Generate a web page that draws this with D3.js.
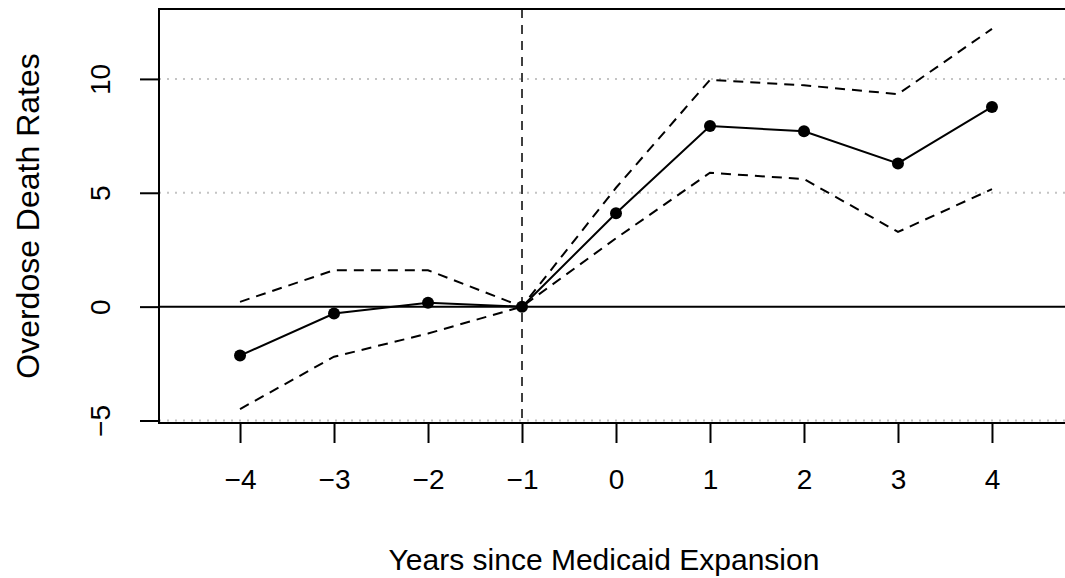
<!DOCTYPE html>
<html>
<head>
<meta charset="utf-8">
<script src="https://cdn.jsdelivr.net/npm/d3@7"></script>
<style>
  body { margin: 0; background: #fff; }
  text { font-family: "Liberation Sans", Arial, sans-serif; fill: #000; }
</style>
</head>
<body>
<svg id="vimage" width="1065" height="578"></svg>
<script>
//---------------------------------------- data ---------------------------------------
var years = [-4, -3, -2, -1, 0, 1, 2, 3, 4];
var estimate = [-2.15, -0.30, 0.17, 0, 4.10, 7.93, 7.70, 6.29, 8.77];
var upper = [0.21, 1.60, 1.60, 0, 5.22, 9.96, 9.72, 9.33, 12.2];
var lower = [-4.5, -2.2, -1.18, 0, 3.0, 5.88, 5.60, 3.28, 5.16];
var yTicks = [-5, 0, 5, 10];
var gridLines = [-5, 5, 10];

//---------------------------------------- scales ---------------------------------------
var svg = d3.select("#vimage");
var pLeft = 159, pRight = 1073, pTop = 9, pBottom = 423;

var x = d3.scaleLinear().domain([-4.862, 4.862]).range([pLeft, pRight]);
var y = d3.scaleLinear().domain([-5.11, 13.07]).range([pBottom, pTop]);

var minus = function(d) { return d < 0 ? "\u2212" + Math.abs(d) : d; };

var line = function(vals) {
    return d3.line()
	.x(function(d, i) { return x(years[i]); })
	.y(function(d) { return y(d); })(vals);
};

//---------------------------------------- grid + reference lines ---------------------------------------
svg.selectAll(".grid")
    .data(gridLines)
    .enter().append("line")
    .attr("class", "grid")
    .attr("x1", pLeft).attr("x2", pRight)
    .attr("y1", function(d) { return y(d); })
    .attr("y2", function(d) { return y(d); })
    .style("stroke", "#c4c4c4")
    .style("stroke-width", 2)
    .style("stroke-dasharray", "2,6");

svg.append("line")
    .attr("x1", pLeft).attr("x2", pRight)
    .attr("y1", y(0)).attr("y2", y(0))
    .style("stroke", "#000")
    .style("stroke-width", 2);

svg.append("line")
    .attr("x1", x(-1)).attr("x2", x(-1))
    .attr("y1", pTop).attr("y2", pBottom)
    .style("stroke", "#000")
    .style("stroke-width", 1.5)
    .style("stroke-dasharray", "9,7");

//---------------------------------------- bands + estimate ---------------------------------------
[upper, lower].forEach(function(b) {
    svg.append("path")
	.attr("d", line(b))
	.style("fill", "none")
	.style("stroke", "#000")
	.style("stroke-width", 2)
	.style("stroke-dasharray", "10,7");
});

svg.append("path")
    .attr("d", line(estimate))
    .style("fill", "none")
    .style("stroke", "#000")
    .style("stroke-width", 2);

svg.selectAll(".pt")
    .data(estimate)
    .enter().append("circle")
    .attr("class", "pt")
    .attr("cx", function(d, i) { return x(years[i]); })
    .attr("cy", function(d) { return y(d); })
    .attr("r", 6)
    .style("fill", "#000");

//---------------------------------------- axes + box ---------------------------------------
svg.append("rect")
    .attr("x", pLeft).attr("y", pTop)
    .attr("width", pRight - pLeft).attr("height", pBottom - pTop)
    .style("fill", "none")
    .style("stroke", "#000")
    .style("stroke-width", 2);

var xAxis = svg.append("g")
    .attr("transform", "translate(0," + pBottom + ")")
    .call(d3.axisBottom(x).tickValues(years).tickSize(20).tickPadding(26).tickFormat(minus));
xAxis.select(".domain").remove();
xAxis.selectAll("line").style("stroke-width", 2);
xAxis.selectAll("text").style("font-size", "28px").style("font-family", "'Liberation Sans', Arial, sans-serif");

var yAxis = svg.append("g")
    .attr("transform", "translate(" + pLeft + ",0)")
    .call(d3.axisLeft(y).tickValues(yTicks).tickSize(19).tickFormat(minus));
yAxis.select(".domain").remove();
yAxis.selectAll("line").style("stroke-width", 2);
yAxis.selectAll(".tick text")
    .attr("x", null).attr("y", null).attr("dy", null)
    .attr("transform", "translate(-49,0) rotate(-90)")
    .style("text-anchor", "middle")
    .style("font-family", "'Liberation Sans', Arial, sans-serif")
    .style("font-size", "28px");

//---------------------------------------- titles ---------------------------------------
svg.append("text")
    .attr("x", 604)
    .attr("y", 570)
    .style("text-anchor", "middle")
    .style("font-size", "30px")
    .text("Years since Medicaid Expansion");

svg.append("text")
    .attr("transform", "translate(39," + ((pTop + pBottom) / 2) + ") rotate(-90)")
    .style("text-anchor", "middle")
    .style("font-size", "32px")
    .text("Overdose Death Rates");
</script>
</body>
</html>
